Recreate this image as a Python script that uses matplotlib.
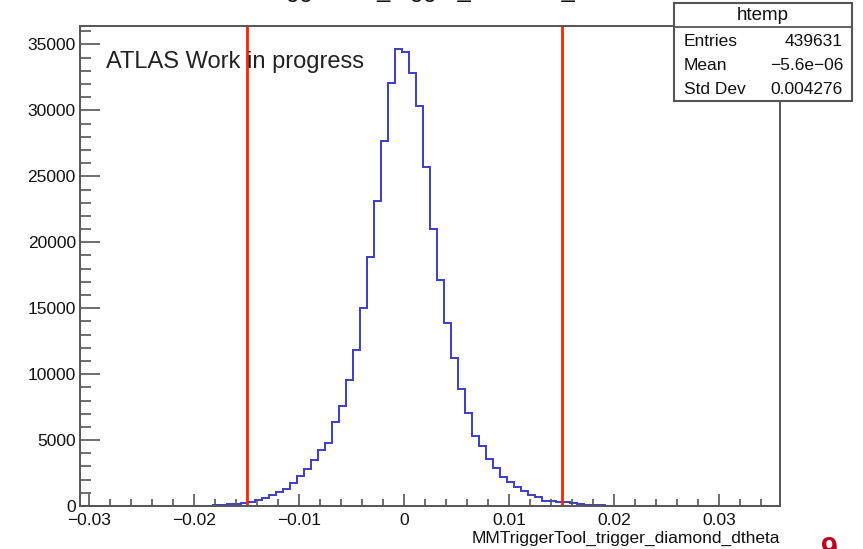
import numpy as np
import matplotlib
matplotlib.use('Agg')
import matplotlib.pyplot as plt
from matplotlib.patches import Rectangle
from matplotlib.lines import Line2D

plt.rcParams['font.family'] = ['Liberation Sans', 'DejaVu Sans']

# histogram: 100 bins, auto range from ROOT's htemp
x_min, x_max = -0.0309, 0.0358
counts = [0] * 15 + [
    5, 10, 20, 35, 60, 90, 120, 160, 210, 290,
    455, 630, 830, 1060, 1310, 1720, 2275, 2780, 3490, 4250,
    4800, 6350, 7610, 9580, 11850, 15040, 18860, 23150, 27650, 32100,
    34660, 34430, 32850, 30360, 25690, 21000, 17140, 13860, 11200, 8900,
    7030, 5310, 4570, 3560, 2900, 2220, 1840, 1460, 1140, 860,
    710, 400, 380, 300, 280, 200, 150, 110, 70, 40,
    20, 10, 5,
]
counts = counts + [0] * (100 - len(counts))
edges = np.linspace(x_min, x_max, len(counts) + 1)

cut_lo, cut_hi = -0.015, 0.015

stat_names = ['Entries', 'Mean', 'Std Dev']
stat_values = ['439631', '\u22125.6e\u221206', '0.004276']

W, H = 863, 549
fig = plt.figure(figsize=(W / 100, H / 100), dpi=100)

def fx(px):
    return px / W

def fy(py):
    return 1 - py / H

ax = fig.add_axes([fx(80), fy(506), fx(780) - fx(80), fy(26) - fy(506)])
ax.stairs(counts, edges, color='#3d3dc4', lw=1.4, baseline=0)
ax.axvline(cut_lo, color='#ff2200', lw=2)
ax.axvline(cut_hi, color='#ff2200', lw=2)

ax.set_xlim(x_min, x_max)
ax.set_ylim(0, 36400)
ax.set_xticks(np.arange(-0.03, 0.031, 0.01))
ax.set_xticklabels(['\u22120.03', '\u22120.02', '\u22120.01', '0', '0.01', '0.02', '0.03'])
ax.set_xticks(np.arange(-0.03, 0.0358, 0.002), minor=True)
ax.set_yticks(np.arange(0, 35001, 5000))
ax.set_yticks(np.arange(0, 36001, 1000), minor=True)
ax.tick_params(axis='x', which='major', direction='in', length=9, width=1.2,
               color='#555555', labelsize=12.5, pad=5, labelcolor='#111111')
ax.tick_params(axis='x', which='minor', direction='in', length=4.8, width=1.2, color='#555555')
ax.tick_params(axis='y', which='major', direction='in', length=14.4, width=1.2,
               color='#555555', labelsize=12.5, pad=3, labelcolor='#111111')
ax.tick_params(axis='y', which='minor', direction='in', length=7.7, width=1.2, color='#555555')
for s in ax.spines.values():
    s.set_color('#555555')
    s.set_linewidth(1.4)

ax.text(1.0, -32 / 480, 'MMTriggerTool_trigger_diamond_dtheta', transform=ax.transAxes,
        ha='right', va='center', fontsize=12.5, color='#111111')
ax.text(fx(106 - 80) / (fx(780) - fx(80)), (506 - 62) / 480, 'ATLAS Work in progress',
        transform=ax.transAxes, ha='left', va='center', fontsize=17, color='#222222')

# clipped title at the very top, only the descenders show
fig.text(fx(430), 1.0 + 3.3 / H, 'MMTriggerTool_trigger_diamond_dtheta', ha='center',
         va='baseline', fontsize=17, color='#111111')

# stats box
box = Rectangle((fx(674), fy(101)), fx(852) - fx(674), fy(3) - fy(101),
                transform=fig.transFigure, facecolor='white', edgecolor='#555555',
                lw=1.5, zorder=5)
fig.add_artist(box)
fig.add_artist(Line2D([fx(674), fx(852)], [fy(27), fy(27)], transform=fig.transFigure,
                      color='#555555', lw=1.3, zorder=6))
fig.text(fx(763), fy(15), 'htemp', ha='center', va='center', fontsize=13.5,
         color='#111111', zorder=7)
for i, (n, v) in enumerate(zip(stat_names, stat_values)):
    y = fy(42 + i * 23.5)
    fig.text(fx(684), y, n, ha='left', va='center', fontsize=12.5, color='#111111', zorder=7)
    fig.text(fx(843), y, v, ha='right', va='center', fontsize=12.5, color='#111111', zorder=7)

# page number peeking in at the bottom
fig.text(fx(829), -0.0175, '9', ha='center', va='baseline', fontsize=22,
         fontweight='bold', color='#c00020')

fig.savefig('out.png', dpi=100)
